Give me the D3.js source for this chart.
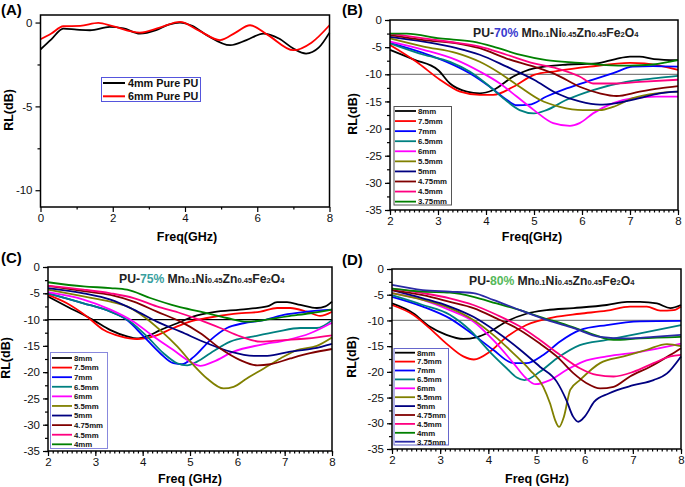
<!DOCTYPE html>
<html>
<head>
<meta charset="utf-8">
<script src="https://cdn.jsdelivr.net/npm/d3@7"></script>
<style>
  body{margin:0;background:#fff}
  svg{font-family:"Liberation Sans",Arial,sans-serif}
</style>
</head>
<body>
<svg id="chart" width="685" height="487"></svg>
<script>
// ---- data: [freq GHz, RL dB] ----
const namesA = ["4mm Pure PU", "6mm Pure PU"];
const rlA = [
  [[0,-1.6],[0.3,-1.0],[0.63,-0.36],[1.0,-0.42],[1.37,-0.46],[1.92,-0.26],[2.3,-0.35],[2.75,-0.66],[3.2,-0.45],[3.55,-0.12],[3.86,0],[4.2,-0.2],[4.6,-0.75],[5.25,-1.35],[5.7,-1.05],[6.17,-0.66],[6.6,-0.95],[7.0,-1.55],[7.35,-1.85],[7.7,-1.5],[8,-0.6]],
  [[0,-1.0],[0.3,-0.65],[0.63,-0.22],[1.1,-0.2],[1.6,-0.02],[2.0,-0.22],[2.75,-0.6],[3.3,-0.3],[3.86,0.04],[4.4,-0.5],[4.97,-1.05],[5.4,-0.6],[5.8,-0.16],[6.3,-0.75],[7.0,-1.65],[7.5,-1.2],[8,-0.16]]
];

const namesB = ["8mm","7.5mm","7mm","6.5mm","6mm","5.5mm","5mm","4.75mm","4.5mm","3.75mm"];
const rlB = [
  [[2,-5.5],[2.5,-7.3],[3,-9.2],[3.25,-11.7],[3.6,-13.2],[3.87,-13.5],[4.15,-12.9],[4.57,-10.4],[5,-8.9],[5.7,-8.2],[6.3,-8.0],[6.7,-7.2],[7.0,-6.75],[7.2,-6.75],[7.5,-7.2],[8,-7.4]],
  [[2,-4.6],[2.55,-7.7],[3.04,-11],[3.46,-13.2],[3.87,-13.8],[4.15,-13.8],[4.57,-12.3],[5,-10.1],[5.47,-9.4],[6.16,-8.6],[7,-7.9],[7.3,-8],[8,-9.2]],
  [[2,-4.2],[2.7,-6.1],[3.18,-7.7],[3.66,-9.8],[4.08,-12.3],[4.43,-14.7],[4.64,-15.7],[4.9,-15.6],[5.26,-14.1],[5.68,-12.6],[6.23,-11.0],[6.65,-9.8],[7.06,-8.6],[7.48,-8.5],[8,-8.6]],
  [[2,-4.3],[2.7,-6.4],[3.25,-7.7],[3.66,-9.5],[4.0,-11.7],[4.36,-14.4],[4.7,-16.6],[5,-17.2],[5.26,-16.6],[5.68,-14.7],[6.23,-12.9],[6.92,-11.4],[7.55,-10.7],[8,-10.3]],
  [[2,-4.0],[2.7,-5.5],[3.39,-7.4],[3.87,-9.5],[4.29,-11.7],[4.64,-14.1],[5,-16.6],[5.4,-19],[5.75,-19.5],[5.95,-19],[6.23,-17.2],[6.65,-15.3],[7.06,-14.4],[7.55,-14.1],[8,-14.1]],
  [[2,-3.4],[2.7,-4.9],[3.39,-6.1],[3.87,-7.7],[4.29,-9.8],[4.7,-12.3],[5.12,-14.7],[5.54,-16],[6.02,-16.6],[6.37,-16.6],[6.65,-16],[7.06,-14.4],[7.55,-13.5],[8,-13.2]],
  [[2,-3.1],[2.7,-4],[3.39,-5.2],[3.87,-6.4],[4.43,-8.6],[5,-11],[5.47,-13.5],[5.95,-15],[6.37,-15.6],[6.72,-15.3],[7.2,-14.4],[7.62,-13.5],[8,-13.2]],
  [[2,-2.8],[2.7,-3.7],[3.39,-4.3],[3.87,-5.2],[4.43,-7.1],[5,-8.6],[5.47,-10.1],[5.95,-12.3],[6.37,-13.5],[6.72,-14],[7.2,-13.2],[7.62,-12.6],[8,-12.2]],
  [[2,-2.5],[2.7,-3.4],[3.39,-4.2],[3.87,-4.9],[4.43,-6.4],[5,-8],[5.47,-8.9],[5.95,-10.4],[6.23,-11.7],[6.65,-11.7],[7.2,-11.4],[8,-11]],
  [[2,-2.5],[2.35,-2.5],[3.04,-3.4],[3.73,-4],[4.15,-4.9],[4.7,-6.4],[5.26,-7.4],[5.95,-7.9],[6.5,-8.3],[7,-8.4],[7.48,-8.2],[8,-7.4]]
];

const namesC = ["8mm","7.5mm","7mm","6.5mm","6mm","5.5mm","5mm","4.75mm","4.5mm","4mm"];
const rlC = [
  [[2,-5.6],[2.4,-7.5],[2.96,-10.1],[3.32,-12],[3.67,-13.2],[3.88,-13.6],[4.09,-13.2],[4.37,-12],[4.73,-10.7],[5.08,-9.4],[5.5,-8.6],[6.06,-8.1],[6.63,-7.5],[6.84,-6.7],[7.05,-6.7],[7.33,-7.2],[7.68,-7.8],[7.86,-7.5],[8,-6.6]],
  [[2,-5.3],[2.4,-6.9],[2.82,-9.4],[3.18,-12],[3.53,-13.2],[3.88,-13.7],[4.23,-13.2],[4.65,-11.6],[5.0,-10.4],[5.36,-9.7],[5.92,-8.9],[6.49,-8.5],[6.84,-7.8],[7.12,-7.8],[7.47,-8.5],[7.75,-9.3],[8,-8.5]],
  [[2,-5.0],[2.75,-6.9],[3.32,-8.5],[3.67,-10.1],[4.02,-13.2],[4.37,-16.4],[4.65,-18.3],[4.83,-18.5],[5.08,-17.1],[5.43,-13.9],[5.78,-11.6],[6.13,-10.7],[6.56,-10.1],[6.98,-9.1],[7.47,-8.5],[8,-8.1]],
  [[2,-5.0],[2.75,-6.9],[3.32,-8.5],[3.74,-10.4],[4.09,-13.2],[4.44,-16.4],[4.73,-18.3],[4.94,-18.7],[5.15,-18],[5.43,-16.4],[5.85,-14.2],[6.35,-13.2],[6.84,-12.3],[7.33,-11.6],[7.68,-11.6],[8,-10.1]],
  [[2,-4.8],[2.75,-6.2],[3.32,-8.1],[3.81,-10.4],[4.23,-13.2],[4.65,-15.8],[5.0,-18],[5.22,-18.8],[5.5,-18],[5.92,-16.1],[6.49,-14.8],[7.05,-13.9],[7.54,-12.6],[8,-10.6]],
  [[2,-4.3],[2.75,-5.6],[3.32,-6.6],[3.67,-7.5],[4.02,-9.4],[4.37,-12],[4.73,-15.1],[5.08,-18.7],[5.36,-21.2],[5.71,-23.1],[5.92,-22.8],[6.2,-21.2],[6.56,-19.3],[6.91,-17.4],[7.26,-15.8],[7.68,-15],[8,-13.4]],
  [[2,-4.0],[2.75,-5],[3.32,-6.2],[3.81,-8.1],[4.3,-10.4],[4.8,-12.3],[5.36,-14.5],[5.85,-16.1],[6.35,-16.9],[6.63,-16.9],[7.12,-16.1],[7.61,-15.5],[8,-14.6]],
  [[2,-3.6],[2.75,-4.6],[3.32,-5.3],[3.81,-6.6],[4.3,-8.5],[4.8,-10.4],[5.22,-12.6],[5.64,-15.5],[6.06,-17.7],[6.42,-18.7],[6.7,-18.5],[7.12,-17.4],[7.54,-16.4],[8,-15.6]],
  [[2,-3.6],[2.75,-4.3],[3.32,-5],[3.81,-5.9],[4.3,-7.5],[4.8,-8.8],[5.22,-10.1],[5.64,-11.6],[6.06,-13.2],[6.49,-14.2],[6.98,-13.9],[7.47,-13.6],[8,-13]],
  [[2,-2.9],[2.75,-3.7],[3.32,-4.0],[3.67,-4.3],[4.16,-5.9],[4.73,-7.5],[5.22,-8.5],[5.78,-9.7],[6.2,-10.4],[6.56,-10.1],[7.05,-9.4],[7.54,-8.8],[8,-8.1]]
];

const namesD = ["8mm","7.5mm","7mm","6.5mm","6mm","5.5mm","5mm","4.75mm","4.5mm","4mm","3.75mm"];
const rlD = [
  [[2,-6.7],[2.44,-8.6],[2.78,-11.2],[3.13,-12.8],[3.48,-13.6],[3.75,-13.3],[4.03,-12.2],[4.38,-10.2],[4.79,-8.7],[5.21,-8],[5.77,-7.6],[6.46,-7],[6.88,-6.4],[7.15,-6.4],[7.5,-6.7],[7.78,-7.6],[8,-7.0]],
  [[2,-7.0],[2.44,-8.9],[2.78,-11.5],[3.13,-14.5],[3.48,-17],[3.7,-17.6],[4.03,-16.1],[4.38,-13.2],[4.79,-10.9],[5.35,-9.4],[5.9,-8.7],[6.46,-8.1],[6.94,-7.3],[7.29,-7.3],[7.57,-8.1],[7.85,-8],[8,-7.3]],
  [[2,-5.4],[2.64,-7.3],[3.2,-9.6],[3.69,-12.8],[4.1,-15.7],[4.52,-18.3],[4.79,-18.3],[5.14,-16.7],[5.49,-14.1],[5.9,-11.9],[6.46,-10.9],[7.15,-10.2],[8,-10.1]],
  [[2,-5.1],[2.64,-7],[3.2,-8.9],[3.62,-11.9],[4.03,-16.1],[4.38,-19.3],[4.59,-21.1],[4.75,-21.6],[5.07,-20],[5.42,-17.4],[5.9,-14.8],[6.46,-13.8],[7.15,-12.5],[8,-10.9]],
  [[2,-4.7],[2.64,-6],[3.2,-8],[3.69,-10.2],[4.1,-13.8],[4.52,-18.3],[4.79,-21.3],[4.98,-22.4],[5.28,-21.6],[5.63,-19.6],[5.97,-18],[6.46,-17],[7.15,-16.1],[8,-14.5]],
  [[2,-4.7],[2.64,-6],[3.2,-7.6],[3.69,-9.9],[4.1,-12.8],[4.52,-16.4],[4.86,-19.6],[5.14,-22.9],[5.28,-26.1],[5.4,-29.7],[5.47,-30.7],[5.57,-28.7],[5.7,-23.5],[5.9,-21.6],[6.32,-18.3],[6.81,-17],[7.29,-15.7],[7.71,-14.6],[8,-15]],
  [[2,-4.1],[2.64,-5.7],[3.2,-7.3],[3.69,-9.3],[4.17,-12.2],[4.66,-15.7],[5.07,-19],[5.42,-21.9],[5.62,-25.5],[5.76,-28.7],[5.87,-29.7],[6.0,-28.7],[6.2,-25.8],[6.5,-24.2],[7.01,-22.6],[7.43,-21.6],[7.71,-20.3],[8,-17]],
  [[2,-4.1],[2.64,-5.1],[3.2,-6.4],[3.69,-7.6],[4.17,-9.6],[4.66,-11.9],[5.07,-14.5],[5.42,-17],[5.77,-20.3],[6.04,-22.2],[6.32,-23.2],[6.6,-22.9],[6.94,-20.9],[7.36,-19],[7.78,-16.7],[8,-15.4]],
  [[2,-3.8],[2.64,-4.7],[3.2,-5.7],[3.69,-7],[4.17,-8.9],[4.66,-11.2],[5.07,-13.8],[5.49,-16.7],[5.9,-19.3],[6.25,-20.6],[6.6,-20.9],[7.01,-20],[7.43,-18.3],[7.78,-17],[8,-16.7]],
  [[2,-3.8],[2.64,-4.4],[3.2,-4.6],[3.69,-5.4],[4.17,-6.7],[4.66,-8],[5.07,-9.3],[5.63,-10.9],[6.11,-12.5],[6.6,-13.8],[7.15,-13.5],[8,-13.2]],
  [[2,-3.1],[2.64,-4.1],[3.2,-4.4],[3.69,-4.7],[4.1,-6],[4.66,-8],[5.21,-9.9],[5.77,-11.5],[6.32,-13.2],[6.88,-13.5],[7.43,-13.2],[8,-12.8]]
];

const ticksA = [0, 2, 4, 6, 8];
const ticksRL = [0, -5, -10, -15, -20, -25, -30, -35];
const ticksFreq = [2, 3, 4, 5, 6, 7, 8];

const palette = ["#000000","#ff0000","#0000ff","#008080","#ff00ff","#808000","#000080","#800000","#ff0080","#008000","#2a2aa6"];

const svg = d3.select("#chart");

// one panel
function panel(o) {
  const x = d3.scaleLinear().domain(o.xd).range([o.l, o.r]);
  const y = d3.scaleLinear().domain(o.yd).range([o.b, o.t]);
  const g = svg.append("g");

  // minor ticks
  const xa = d3.axisBottom(x).tickValues(o.xMinor).tickSize(2.5).tickFormat("");
  g.append("g").attr("transform", `translate(0,${o.b})`).call(xa)
    .call(s => s.select(".domain").remove());
  const ya = d3.axisLeft(y).tickValues(o.yMinor).tickSize(3).tickFormat("");
  g.append("g").attr("transform", `translate(${o.l},0)`).call(ya)
    .call(s => s.select(".domain").remove());

  // major ticks
  g.append("g").attr("transform", `translate(0,${o.b})`)
    .call(d3.axisBottom(x).tickValues(o.xt).tickSize(5).tickPadding(2).tickFormat(d3.format("d")))
    .call(s => s.select(".domain").remove())
    .call(s => s.selectAll("text").attr("font-size", 11.5).attr("fill", "#111"));
  g.append("g").attr("transform", `translate(${o.l},0)`)
    .call(d3.axisLeft(y).tickValues(o.yt).tickSize(5).tickPadding(3).tickFormat(d => d === 0 ? "0" : "-" + Math.abs(d)))
    .call(s => s.select(".domain").remove())
    .call(s => s.selectAll("text").attr("font-size", 11.5).attr("fill", "#111"));
  g.selectAll(".tick line").attr("stroke", "#000").attr("stroke-width", 1.2);

  // -10 dB reference
  if (o.ref) {
    g.append("line").attr("x1", o.l).attr("x2", o.r)
      .attr("y1", y(-10)).attr("y2", y(-10))
      .attr("stroke", o.ref).attr("stroke-width", 1.3);
  }

  const line = d3.line().x(d => x(d[0])).y(d => y(d[1])).curve(d3.curveMonotoneX);
  o.data.forEach((s, i) => {
    g.append("path").datum(s).attr("d", line)
      .attr("fill", "none").attr("stroke", o.colors[i]).attr("stroke-width", 1.8);
  });

  g.append("rect").attr("x", o.l).attr("y", o.t)
    .attr("width", o.r - o.l).attr("height", o.b - o.t)
    .attr("fill", "none").attr("stroke", "#000").attr("stroke-width", 1.5);

  // legend
  const L = o.leg;
  g.append("rect").attr("x", L.x0).attr("y", L.y0)
    .attr("width", L.x1 - L.x0).attr("height", L.y1 - L.y0)
    .attr("fill", "#fff").attr("stroke", L.stroke).attr("stroke-width", 1);
  o.names.forEach((n, i) => {
    const yy = L.first + i * L.gap;
    g.append("line").attr("x1", L.lx0).attr("x2", L.lx1).attr("y1", yy).attr("y2", yy)
      .attr("stroke", o.colors[i]).attr("stroke-width", L.sw);
    g.append("text").attr("x", L.tx).attr("y", yy + L.fs * 0.36)
      .attr("font-size", L.fs).attr("font-weight", "bold").attr("fill", "#111").text(n);
  });

  // axis titles and panel letter
  g.append("text").attr("transform", `translate(${o.yl[0]},${o.yl[1]}) rotate(-90)`)
    .attr("text-anchor", "middle").attr("font-size", 12.5).attr("font-weight", "bold").text("RL(dB)");
  g.append("text").attr("x", o.xl[0]).attr("y", o.xl[1])
    .attr("text-anchor", "middle").attr("font-size", 12.5).attr("font-weight", "bold").text(o.xlab);
  g.append("text").attr("x", o.tag[0]).attr("y", o.tag[1])
    .attr("font-size", 15).attr("font-weight", "bold").text(o.tagText);

  if (o.title) {
    const t = g.append("text").attr("x", o.title.x).attr("y", o.title.y)
      .attr("font-size", 12.2).attr("font-weight", "bold").attr("fill", "#222");
    t.append("tspan").text("PU-");
    t.append("tspan").attr("fill", o.title.c).text(o.title.pct);
    const parts = [["Mn", 0], ["0.1", 1], ["Ni", 0], ["0.45", 1], ["Zn", 0], ["0.45", 1], ["Fe", 0], ["2", 1], ["O", 0], ["4", 1]];
    parts.forEach(([s, sub], k) => {
      t.append("tspan").attr("font-size", sub ? 7.6 : 12.2)
        .attr("dx", k === 0 ? 3 : 0).text(s);
    });
  }
}

const minorFreq = d3.range(20, 81).map(v => v / 10);
const minorRL = d3.range(-35, 1, 2.5);

panel({
  l: 40.5, r: 329.5, t: 15, b: 207, xd: [0, 8], yd: [-11, 0.45],
  xt: ticksA, yt: [0, -5, -10], xMinor: [1, 3, 5, 7], yMinor: [-2.5, -7.5],
  data: rlA, names: namesA, colors: ["#000000", "#ff0000"],
  leg: {x0: 101.5, y0: 77.5, x1: 200.5, y1: 101.5, stroke: "#5555dd", first: 83, gap: 13.3, lx0: 103, lx1: 125, tx: 128, fs: 10.8, sw: 2},
  yl: [13, 110], xl: [187, 241], xlab: "Freq(GHz)", tag: [1, 15], tagText: "(A)"
});

panel({
  l: 390, r: 678, t: 20, b: 210, xd: [2, 8], yd: [-35, 0],
  xt: ticksFreq, yt: ticksRL, xMinor: minorFreq, yMinor: minorRL,
  data: rlB, names: namesB, colors: palette, ref: "#808080",
  leg: {x0: 394, y0: 106.5, x1: 451.5, y1: 205, stroke: "#555", first: 111, gap: 10.07, lx0: 395, lx1: 416, tx: 418, fs: 7.8, sw: 1.8},
  yl: [357, 114], xl: [532, 241], xlab: "Freq(GHz)", tag: [342, 15], tagText: "(B)",
  title: {x: 473, y: 37, pct: "70%", c: "#3a3acf"}
});

panel({
  l: 48, r: 332, t: 267, b: 451, xd: [2, 8], yd: [-35, 0],
  xt: ticksFreq, yt: ticksRL, xMinor: minorFreq, yMinor: minorRL,
  data: rlC, names: namesC, colors: palette, ref: "#000000",
  leg: {x0: 50.5, y0: 352.5, x1: 107.5, y1: 448.5, stroke: "#8888dd", first: 358, gap: 9.59, lx0: 52, lx1: 72, tx: 74, fs: 7.8, sw: 1.8},
  yl: [10, 358], xl: [190, 483], xlab: "Freq (GHz)", tag: [1, 263], tagText: "(C)",
  title: {x: 119, y: 283, pct: "75%", c: "#3a9f9f"}
});

panel({
  l: 392, r: 681, t: 269, b: 449, xd: [2, 8], yd: [-35, 0],
  xt: ticksFreq, yt: ticksRL, xMinor: minorFreq, yMinor: minorRL,
  data: rlD, names: namesD, colors: palette, ref: "#808080",
  leg: {x0: 394, y0: 348.5, x1: 448.5, y1: 445, stroke: "#6666cc", first: 352.7, gap: 8.9, lx0: 395, lx1: 415, tx: 417, fs: 7.8, sw: 1.8},
  yl: [356, 357], xl: [537, 483], xlab: "Freq (GHz)", tag: [342, 265], tagText: "(D)",
  title: {x: 469, y: 285, pct: "80%", c: "#55b85a"}
});
</script>
</body>
</html>
